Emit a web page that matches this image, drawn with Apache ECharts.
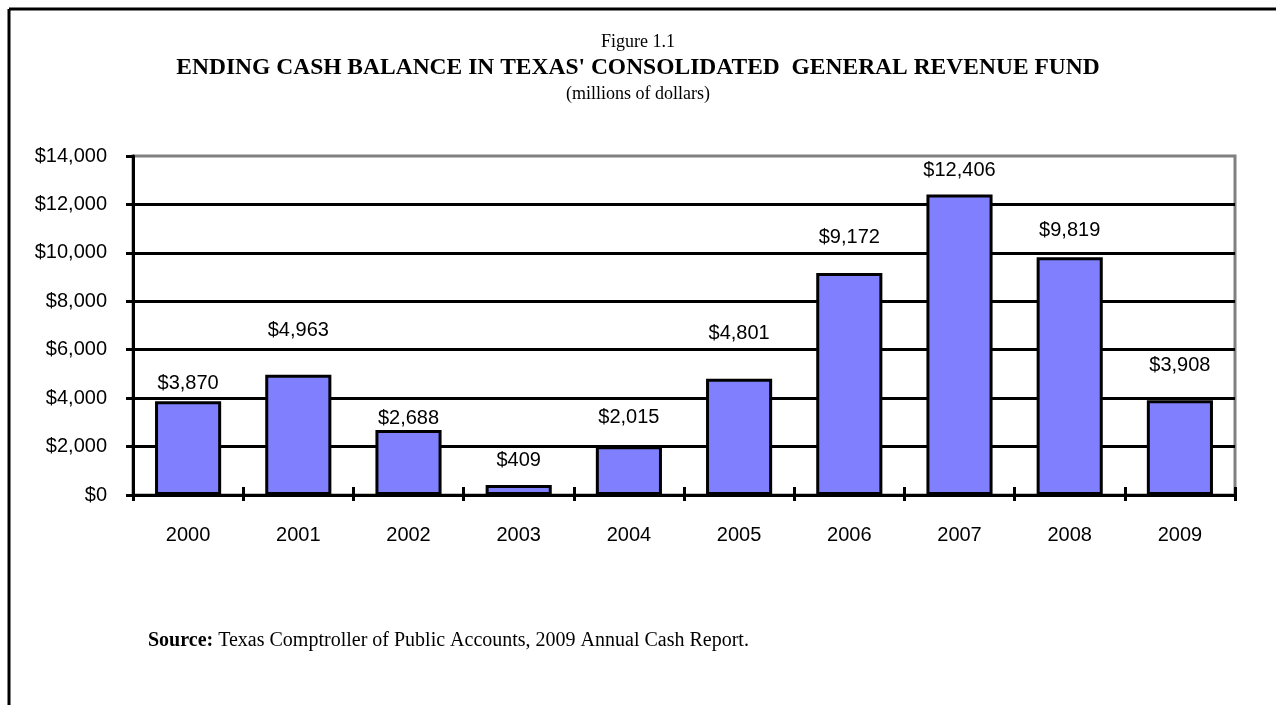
<!DOCTYPE html>
<html>
<head>
<meta charset="utf-8">
<title>Ending Cash Balance in Texas' Consolidated General Revenue Fund</title>
<script src="https://cdn.jsdelivr.net/npm/echarts@6/dist/echarts.min.js"></script>
<style>
  html, body { margin: 0; padding: 0; background: #fff; }
  #chart { width: 1276px; height: 705px; }
</style>
</head>
<body>
<div id="chart"></div>
<script>
// Fiscal years and ending cash balance (millions of dollars)
const years = ['2000', '2001', '2002', '2003', '2004', '2005', '2006', '2007', '2008', '2009'];
const balances = [3870, 4963, 2688, 409, 2015, 4801, 9172, 12406, 9819, 3908];
const yTicks = [0, 2000, 4000, 6000, 8000, 10000, 12000, 14000];

// Gap (px) between each bar's top and its value label
const labelGap = [8, 34, 1, 15, 19, 35, 25, 14, 17, 25];

const money = v => '$' + Number(v).toLocaleString('en-US');
const serif = "'Liberation Serif', 'Times New Roman', serif";
const sans = "'Liberation Sans', Arial, sans-serif";

const chart = echarts.init(document.getElementById('chart'), null, { renderer: 'canvas' });

chart.setOption({
  animation: false,
  backgroundColor: '#ffffff',
  title: [
    {
      text: 'Figure 1.1', left: 'center', top: 33, padding: 0,
      textStyle: { fontFamily: serif, fontSize: 18, fontWeight: 'normal', color: '#000' }
    },
    {
      text: "ENDING CASH BALANCE IN TEXAS' CONSOLIDATED  GENERAL REVENUE FUND", left: 'center', top: 56, padding: 0,
      textStyle: { fontFamily: serif, fontSize: 23.5, fontWeight: 'bold', color: '#000' }
    },
    {
      text: '(millions of dollars)', left: 'center', top: 85, padding: 0,
      textStyle: { fontFamily: serif, fontSize: 18, fontWeight: 'normal', color: '#000' }
    }
  ],
  grid: {
    left: 133, right: 41, top: 156, bottom: 210,
    show: true, borderColor: '#808080', borderWidth: 3, backgroundColor: 'transparent'
  },
  xAxis: [
    {
      type: 'category',
      data: years,
      position: 'bottom',
      axisLine: { show: true, lineStyle: { color: '#000', width: 3 } },
      axisTick: { show: true, inside: false, length: 6, lineStyle: { color: '#000', width: 3 } },
      axisLabel: { fontFamily: sans, fontSize: 20, color: '#000', margin: 30 }
    },
    {
      // inner half of the crossing category ticks
      type: 'category',
      data: years,
      position: 'bottom',
      offset: 0,
      axisLine: { show: false },
      axisTick: { show: true, inside: true, length: 8, lineStyle: { color: '#000', width: 3 } },
      axisLabel: { show: false },
      splitLine: { show: false }
    }
  ],
  yAxis: {
    type: 'value',
    min: yTicks[0],
    max: yTicks[yTicks.length - 1],
    interval: yTicks[1] - yTicks[0],
    axisLine: { show: true, lineStyle: { color: '#000', width: 3 } },
    axisTick: { show: true, inside: false, length: 7, lineStyle: { color: '#000', width: 3 } },
    axisLabel: { fontFamily: sans, fontSize: 20, color: '#000', margin: 26, formatter: money },
    splitLine: { show: true, showMinLine: false, showMaxLine: false, lineStyle: { color: '#000', width: 3 } }
  },
  series: [
    {
      type: 'bar',
      xAxisIndex: 0,
      barWidth: '60%',
      data: balances.map((v, i) => ({
        value: v,
        label: { distance: labelGap[i] }
      })),
      itemStyle: { color: '#8080ff', borderColor: '#000', borderWidth: 3 },
      label: {
        show: true,
        position: 'top',
        fontFamily: sans,
        fontSize: 20,
        color: '#000',
        formatter: p => money(p.value)
      },
      z: 3
    }
  ],
  graphic: [
    // page frame (top and left rules)
    {
      type: 'line', silent: true, z: 10,
      shape: { x1: 9, y1: 9, x2: 1276, y2: 9 },
      style: { stroke: '#000', lineWidth: 3 }
    },
    {
      type: 'line', silent: true, z: 10,
      shape: { x1: 9, y1: 9, x2: 9, y2: 705 },
      style: { stroke: '#000', lineWidth: 3 }
    },
    {
      type: 'text', silent: true, x: 148, y: 641,
      style: {
        text: '{b|Source:} Texas Comptroller of Public Accounts, 2009 Annual Cash Report.',
        verticalAlign: 'middle',
        fontFamily: serif, fontSize: 20, fill: '#000',
        rich: { b: { fontFamily: serif, fontSize: 20, fontWeight: 'bold', fill: '#000' } }
      }
    }
  ]
});
</script>
</body>
</html>
